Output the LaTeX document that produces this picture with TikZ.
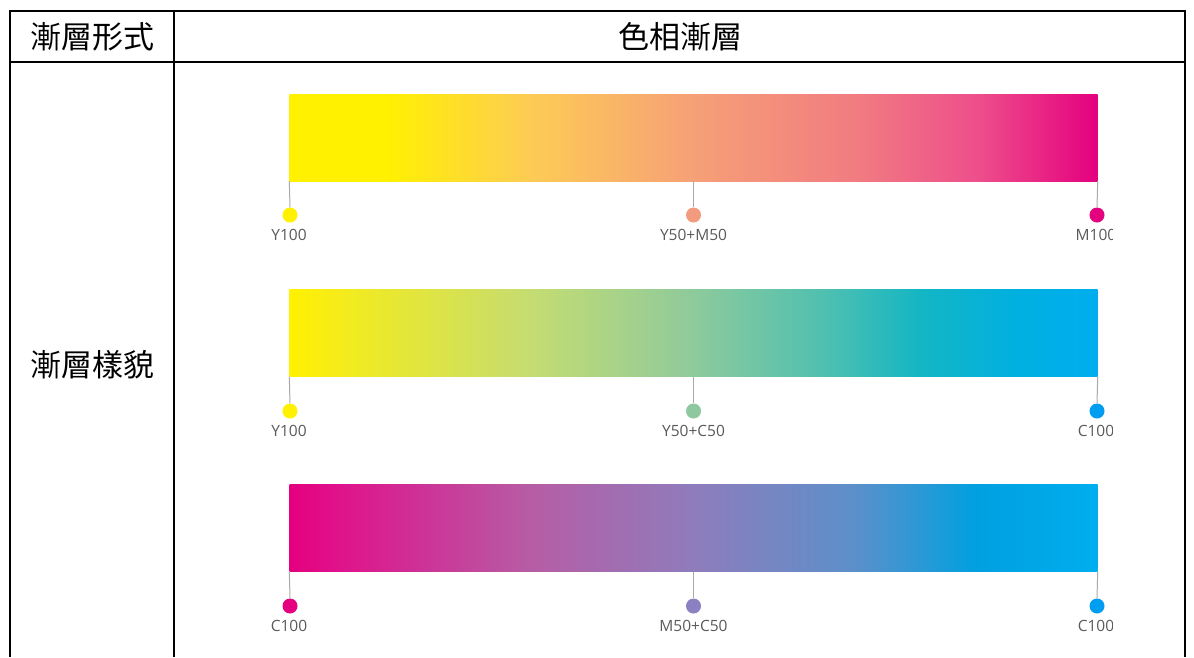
\documentclass[tikz,border=0pt]{standalone}
\usepackage{fontspec}
\newfontfamily\cjk{Noto Sans CJK TC}
\newfontfamily\lblfont{Open Sans}
\definecolor{cY}{HTML}{FFF100}
\definecolor{cM}{HTML}{E4007F}
\definecolor{cC}{HTML}{00AEEF}
\definecolor{cYM}{HTML}{F39B7E}
\definecolor{cYC}{HTML}{8DC89E}
\definecolor{cMC}{HTML}{8A80C2}
\definecolor{lblgray}{HTML}{5A5A5A}
\definecolor{tickgray}{HTML}{AAAAAA}
\pgfdeclarehorizontalshading{gradA}{100bp}{
  color(0bp)=(cY); color(25bp)=(cY); color(31bp)=(cY);
  color(40bp)=(rgb,255:red,253;green,203;blue,85);
  color(50bp)=(rgb,255:red,246;green,160;blue,119);
  color(60bp)=(rgb,255:red,241;green,124;blue,129);
  color(67.5bp)=(rgb,255:red,238;green,79;blue,139);
  color(75bp)=(cM); color(100bp)=(cM)}
\pgfdeclarehorizontalshading{gradB}{100bp}{
  color(0bp)=(cY); color(25bp)=(cY); color(28bp)=(rgb,255:red,245;green,236;blue,26);
  color(40bp)=(rgb,255:red,196;green,220;blue,114);
  color(50bp)=(rgb,255:red,142;green,202;blue,156);
  color(58bp)=(rgb,255:red,80;green,192;blue,176);
  color(64bp)=(rgb,255:red,20;green,182;blue,196);
  color(70bp)=(rgb,255:red,0;green,176;blue,224);
  color(75bp)=(cC); color(100bp)=(cC)}
\pgfdeclarehorizontalshading{gradC}{100bp}{
  color(0bp)=(cM); color(25bp)=(cM); color(28bp)=(rgb,255:red,224;green,18;blue,139);
  color(40bp)=(rgb,255:red,182;green,93;blue,165);
  color(50bp)=(rgb,255:red,143;green,124;blue,188);
  color(60bp)=(rgb,255:red,91;green,144;blue,202);
  color(67.5bp)=(rgb,255:red,0;green,160;blue,224);
  color(75bp)=(cC); color(100bp)=(cC)}
\begin{document}
\begin{tikzpicture}[x=1pt,y=-1pt,
  tbl/.style={line width=1.6pt,black},
  cell/.style={font=\cjk\fontsize{31}{31}\selectfont,inner sep=0pt,anchor=center},
  bar/.style={rectangle,inner sep=0pt,minimum width=808pt,minimum height=87pt,draw=none},
  dot/.style={circle,inner sep=0pt,minimum size=15pt},
  tick/.style={tickgray,line width=1pt},
  lbl/.style={font=\lblfont\fontsize{15.5}{15.5}\selectfont,text=lblgray,inner sep=0pt,anchor=base}]
\useasboundingbox (0,0) rectangle (1194,657);
\fill[white] (0,0) rectangle (1194,657);
% table
\draw[tbl] (10,657) -- (10,11) -- (1185,11) -- (1185,657);
\draw[tbl] (10,62) -- (1185,62);
\draw[tbl] (174,11) -- (174,657);
\node[cell] (h1) at (92,37) {漸層形式};
\node[cell] (h2) at (680,37) {色相漸層};
\node[cell] (h3) at (92,365) {漸層樣貌};
% bars
\node[bar,shading=gradA] (barA) at (693.5,137.5) {};
\node[bar,shading=gradB] (barB) at (693.5,333) {};
\node[bar,shading=gradC] (barC) at (693.5,528) {};
% dots
\node[dot,fill=cY] (a1) at (290,215) {};
\node[dot,fill=cYM] (a2) at (693.5,215) {};
\node[dot,fill=cM] (a3) at (1097,215) {};
\node[dot,fill=cY] (b1) at (290,411) {};
\node[dot,fill=cYC] (b2) at (693.5,411) {};
\node[dot,fill=cC!90!blue] (b3) at (1097,411) {};
\node[dot,fill=cM] (c1) at (290,606) {};
\node[dot,fill=cMC] (c2) at (693.5,606) {};
\node[dot,fill=cC!90!blue] (c3) at (1097,606) {};
% ticks
\draw[tick] (barA.south west) -- (a1.north);
\draw[tick] (barA.south) -- (a2.north);
\draw[tick] (barA.south east) -- (a3.north);
\draw[tick] (barB.south west) -- (b1.north);
\draw[tick] (barB.south) -- (b2.north);
\draw[tick] (barB.south east) -- (b3.north);
\draw[tick] (barC.south west) -- (c1.north);
\draw[tick] (barC.south) -- (c2.north);
\draw[tick] (barC.south east) -- (c3.north);
% labels
\begin{scope}
\clip (0,0) rectangle (1112,657);
\node[lbl] (la1) at (289,240) {Y100};
\node[lbl] (la2) at (693.5,240) {Y50+M50};
\node[lbl] (la3) at (1096,240) {M100};
\node[lbl] (lb1) at (289,436) {Y100};
\node[lbl] (lb2) at (693.5,436) {Y50+C50};
\node[lbl] (lb3) at (1096,436) {C100};
\node[lbl] (lc1) at (289,631) {C100};
\node[lbl] (lc2) at (693.5,631) {M50+C50};
\node[lbl] (lc3) at (1096,631) {C100};
\end{scope}
\end{tikzpicture}
\end{document}
